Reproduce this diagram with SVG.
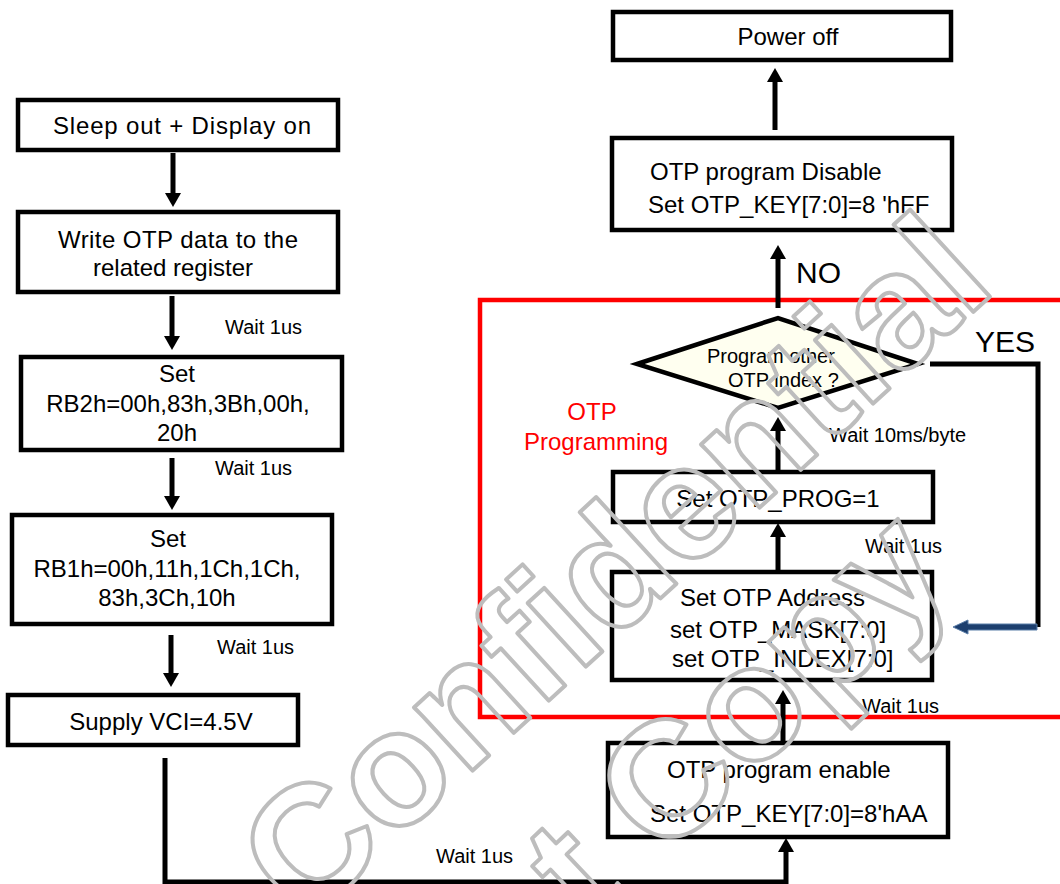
<svg xmlns="http://www.w3.org/2000/svg" width="1060" height="884" viewBox="0 0 1060 884">
<style>
text{font-family:"Liberation Sans",Arial,sans-serif;fill:#000}
.box{fill:#fff;stroke:#000;stroke-width:4.5}
.dia{fill:#fffff0;stroke:#000;stroke-width:4.5;stroke-linejoin:miter}
.t{font-size:24px}
.c{text-anchor:middle}
.w{font-size:20px}
.big{font-size:30px}
.red{fill:#ff0000;font-size:24px}
.wire{fill:none;stroke:#000;stroke-width:5}
.wm{font-family:"Liberation Sans",Arial,sans-serif;font-weight:bold;font-size:163px;fill:none;stroke:#bdbdbd;stroke-width:4;stroke-linejoin:round}
</style>
<defs>
<marker id="ah" markerUnits="userSpaceOnUse" markerWidth="14" markerHeight="16" viewBox="0 0 14 16" refX="1" refY="8" orient="auto">
<path d="M0,0 L14,8 L0,16 z" fill="#000"/>
</marker>
</defs>

<rect id="otp-region" x="480" y="300" width="600" height="417" fill="none" stroke="#ff0000" stroke-width="4.5"/>
<g id="otp-region-label">
<text class="red c" x="592" y="420">OTP</text>
<text class="red c" x="596" y="450">Programming</text>
</g>

<g id="connectors">
<line class="wire" x1="173" y1="153" x2="173" y2="194" marker-end="url(#ah)"/>
<line class="wire" x1="172" y1="296" x2="172" y2="337" marker-end="url(#ah)"/>
<line class="wire" x1="172" y1="458" x2="172" y2="497" marker-end="url(#ah)"/>
<line class="wire" x1="171" y1="635" x2="171" y2="674" marker-end="url(#ah)"/>
<polyline class="wire" points="165,758 165,882 786,882 786,851" marker-end="url(#ah)"/>
<line class="wire" x1="783" y1="742" x2="783" y2="703" marker-end="url(#ah)"/>
<line class="wire" x1="778" y1="572" x2="778" y2="536" marker-end="url(#ah)"/>
<line class="wire" x1="778" y1="472" x2="778" y2="430" marker-end="url(#ah)"/>
<line class="wire" x1="778" y1="308" x2="778" y2="258" marker-end="url(#ah)"/>
<line class="wire" x1="775" y1="130" x2="775" y2="81" marker-end="url(#ah)"/>
<polyline class="wire" points="930,364 1038,364 1038,627"/>
<path d="M1037,624 L968,624 L968,620 L953,627 L968,634 L968,630 L1037,630 z" fill="#1d3f6e" stroke="#5b7ea8" stroke-width="1"/>
<text class="w" x="225" y="334">Wait 1us</text>
<text class="w" x="215" y="475">Wait 1us</text>
<text class="w" x="217" y="654">Wait 1us</text>
<text class="w" x="436" y="863">Wait 1us</text>
<text class="w" x="862" y="713">Wait 1us</text>
<text class="w" x="865" y="553">Wait 1us</text>
<text class="w" x="829" y="442">Wait 10ms/byte</text>
<text class="big" x="975" y="352">YES</text>
<text class="big" x="796" y="283">NO</text>
</g>

<g id="n-sleep">
<rect class="box" x="18" y="100" width="320" height="50"/>
<text class="t c" x="182" y="134" textLength="258" lengthAdjust="spacing">Sleep out + Display on</text>
</g>
<g id="n-write">
<rect class="box" x="18" y="212" width="320" height="80"/>
<text class="t c" x="178" y="248" textLength="240" lengthAdjust="spacing">Write OTP data to the</text>
<text class="t c" x="173" y="276">related register</text>
</g>
<g id="n-rb2">
<rect class="box" x="21" y="357" width="321" height="93"/>
<text class="t c" x="177" y="382">Set</text>
<text class="t c" x="178" y="412">RB2h=00h,83h,3Bh,00h,</text>
<text class="t c" x="177" y="441">20h</text>
</g>
<g id="n-rb1">
<rect class="box" x="12" y="515" width="320" height="109"/>
<text class="t c" x="168" y="547">Set</text>
<text class="t c" x="167" y="577">RB1h=00h,11h,1Ch,1Ch,</text>
<text class="t c" x="167" y="606">83h,3Ch,10h</text>
</g>
<g id="n-vci">
<rect class="box" x="8" y="695" width="290" height="50"/>
<text class="t c" x="161" y="730">Supply VCI=4.5V</text>
</g>
<g id="n-enable">
<rect class="box" x="608" y="743" width="340" height="94"/>
<text class="t" x="667" y="778">OTP program enable</text>
<text class="t" x="650" y="822">Set OTP_KEY[7:0]=8'hAA</text>
</g>
<g id="n-address">
<rect class="box" x="612" y="572" width="320" height="108"/>
<text class="t" x="680" y="606">Set OTP Address</text>
<text class="t" x="670" y="638">set OTP_MASK[7:0]</text>
<text class="t" x="672" y="667">set OTP_INDEX[7:0]</text>
</g>
<g id="n-prog">
<rect class="box" x="613" y="472" width="320" height="50"/>
<text class="t c" x="778" y="507">Set OTP_PROG=1</text>
</g>
<g id="n-decision">
<polygon class="dia" points="637,364 778,318 918,364 778,408"/>
<text class="w" x="707" y="363">Program other</text>
<text class="w" x="728" y="387">OTP index ?</text>
</g>
<g id="n-disable">
<rect class="box" x="612" y="138" width="340" height="92"/>
<text class="t" x="650" y="180">OTP program Disable</text>
<text class="t" x="648" y="213">Set OTP_KEY[7:0]=8 'hFF</text>
</g>
<g id="n-poweroff">
<rect class="box" x="613" y="12" width="338" height="48"/>
<text class="t c" x="788" y="45">Power off</text>
</g>

<g id="watermark">
<text class="wm" transform="translate(304,925) rotate(-42.5)">Confidential</text>
<text class="wm" transform="translate(590,930) rotate(-43.5)" font-size="155">t Copy</text>
</g>
</svg>
